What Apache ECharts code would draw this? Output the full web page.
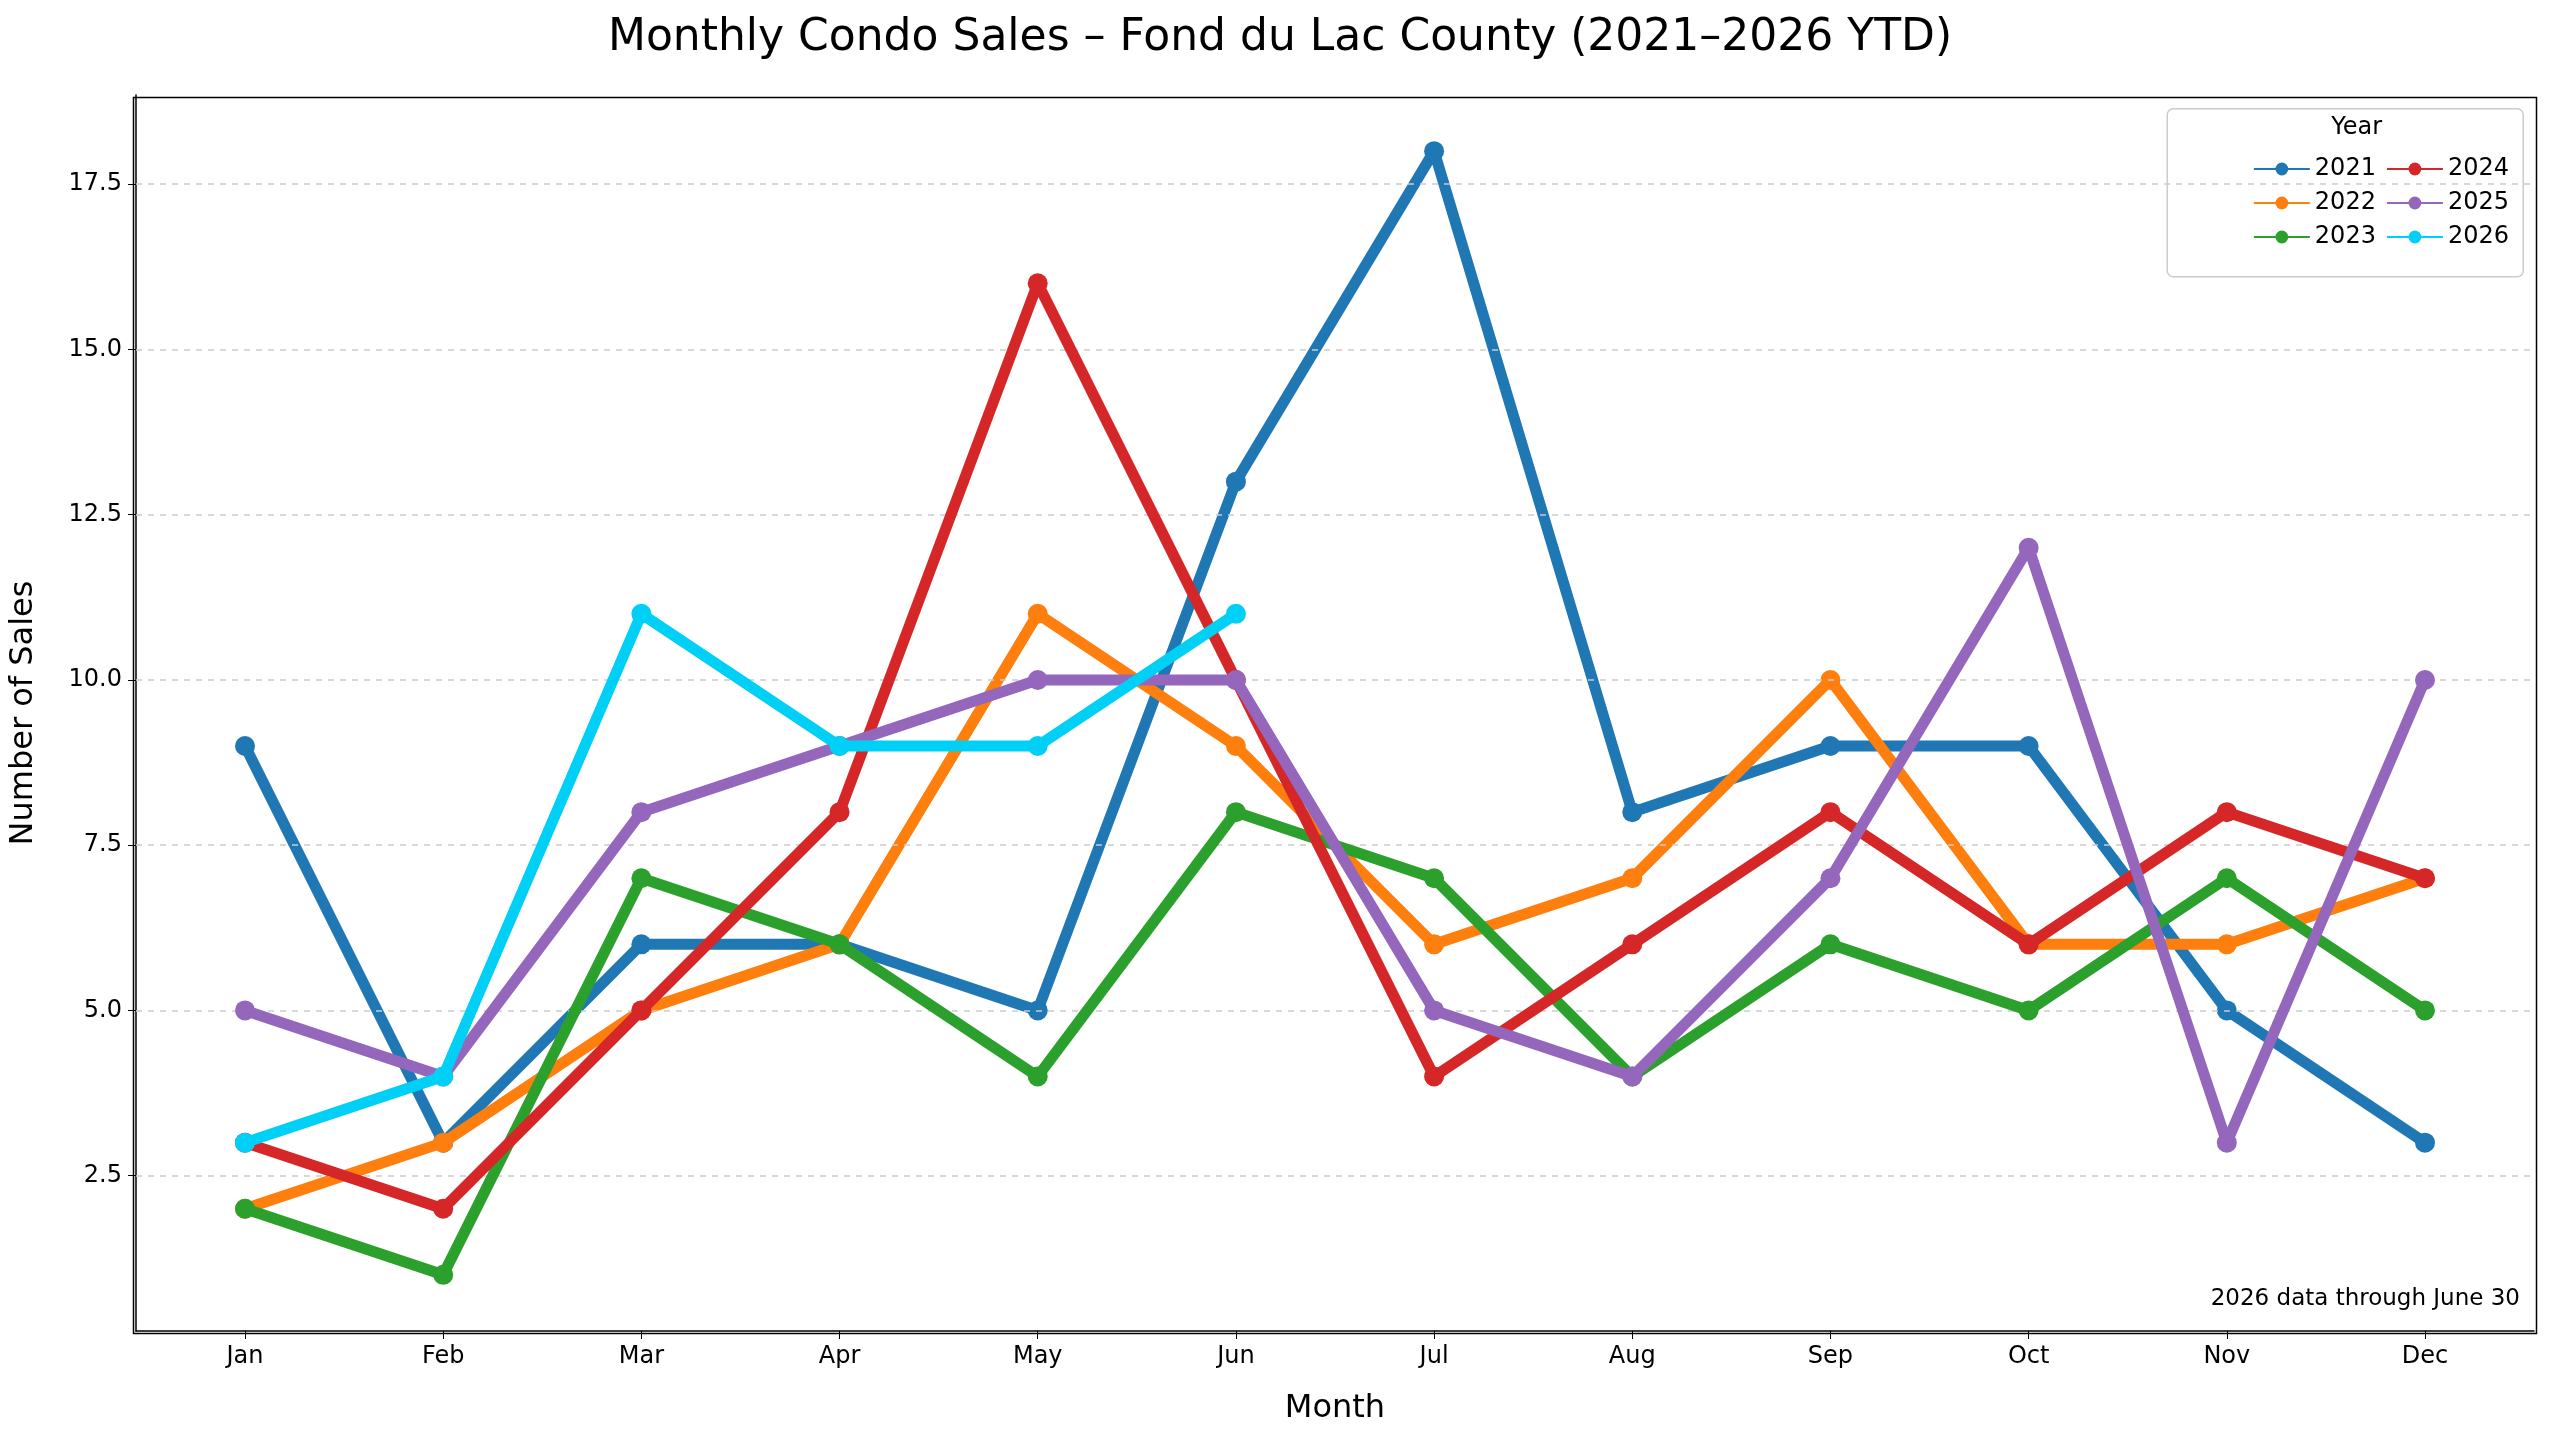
<!DOCTYPE html>
<html><head><meta charset="utf-8">
<script src="https://cdn.jsdelivr.net/npm/echarts@6/dist/echarts.min.js"></script>
<style>html,body{margin:0;padding:0;background:#fff}#c{width:2560px;height:1431px}</style>
</head><body><div id="c"></div>
<script>
const months=['Jan','Feb','Mar','Apr','May','Jun','Jul','Aug','Sep','Oct','Nov','Dec'];
const years=['2021','2022','2023','2024','2025','2026'];
const colors=['#1f77b4','#ff7f0e','#2ca02c','#d62728','#9467bd','#00d0f5'];
const s2021=[9,3,6,6,5,13,18,8,9,9,5,3];
const s2022=[2,3,5,6,11,9,6,7,10,6,6,7];
const s2023=[2,1,7,6,4,8,7,4,6,5,7,5];
const s2024=[3,2,5,8,16,10,4,6,8,6,8,7];
const s2025=[5,4,8,9,10,10,5,4,7,12,3,10];
const s2026=[3,4,11,9,9,11];
const yTicks=[2.5,5,7.5,10,12.5,15,17.5];
const all=[s2021,s2022,s2023,s2024,s2025,s2026];
const chart=echarts.init(document.getElementById('c'));
const F='DejaVu Sans';
const series=all.map((d,i)=>({name:years[i],type:'line',data:d.map((v,j)=>[j,v]),
 lineStyle:{width:11,color:colors[i]},itemStyle:{color:colors[i]},symbol:'circle',symbolSize:20,z:3+i}));
series.push({type:'line',data:[],silent:true,markLine:{silent:true,symbol:'none',label:{show:false},
 lineStyle:{type:[6,6],color:'#cccccc',width:1.5},data:yTicks.map(v=>({yAxis:v}))}});
chart.setOption({
 animation:false,
 textStyle:{fontFamily:F},
 title:{text:'Monthly Condo Sales – Fond du Lac County (2021–2026 YTD)',left:'center',top:12,
  textStyle:{fontFamily:F,fontSize:44,fontWeight:'normal',color:'#000'}},
 grid:{left:131,right:26,top:95,bottom:100},
 xAxis:{type:'value',min:-0.55,max:11.55,name:'Month',nameLocation:'middle',nameGap:62,
  nameTextStyle:{fontSize:32,color:'#000'},splitLine:{show:false},
  axisLine:{onZero:false,lineStyle:{color:'#000',width:1.5}},
  axisTick:{customValues:[0,1,2,3,4,5,6,7,8,9,10,11],length:8,lineStyle:{color:'#000'}},
  axisLabel:{customValues:[0,1,2,3,4,5,6,7,8,9,10,11],formatter:v=>months[Math.round(v)],fontSize:24,color:'#000',margin:14}},
 yAxis:{type:'value',min:0.15,max:18.85,name:'Number of Sales',nameLocation:'middle',nameGap:96,
  nameTextStyle:{fontSize:32,color:'#000'},splitLine:{show:false},
  axisLine:{show:true,onZero:false,lineStyle:{color:'#000',width:1.5}},
  axisTick:{show:true,customValues:yTicks,length:8,lineStyle:{color:'#000'}},
  axisLabel:{customValues:yTicks,formatter:v=>v.toFixed(1),fontSize:24,color:'#000',margin:14}},
 legend:{orient:'vertical',right:46,top:152,height:110,itemGap:10,itemWidth:56,itemHeight:16,
  data:years,textStyle:{fontSize:24,color:'#000'}},
 graphic:[
  {type:'rect',right:36,top:108,shape:{width:356,height:168,r:6},style:{fill:'#fff',stroke:'#ccc',lineWidth:1.5},z:-1},
  {type:'text',right:178,top:116,style:{text:'Year',font:'24px DejaVu Sans',fill:'#000'}},
  {type:'text',right:40,top:1288,style:{text:'2026 data through June 30',font:'23px DejaVu Sans',fill:'#000'}},
  {type:'rect',left:131,top:95,shape:{width:2403,height:1236},style:{fill:'none',stroke:'#000',lineWidth:1.5},silent:true}
 ],
 series
});
</script></body></html>
